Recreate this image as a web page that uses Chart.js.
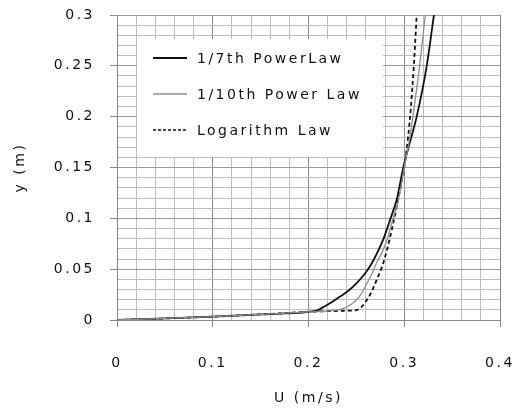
<!DOCTYPE html>
<html><head><meta charset="utf-8">
<script src="https://cdn.jsdelivr.net/npm/chart.js@4/dist/chart.umd.min.js"></script>
<style>html,body{margin:0;padding:0;background:#fff;}#wrap{width:515px;height:415px;position:relative;}</style>
</head><body><div id="wrap"><canvas id="c" width="515" height="415"></canvas></div>
<script>
// ---- data ----
const seriesNames = ['1/7th PowerLaw', '1/10th Power Law', 'Logarithm Law'];

const seventhU = [0, 0.05, 0.1, 0.15, 0.2, 0.21, 0.216, 0.225, 0.233, 0.242, 0.25, 0.26, 0.268, 0.278, 0.285, 0.292, 0.299, 0.306, 0.313, 0.3235, 0.331];
const seventhY = [0, 0.0015, 0.0033, 0.0055, 0.008, 0.0098, 0.013, 0.018, 0.023, 0.029, 0.036, 0.047, 0.059, 0.079, 0.098, 0.118, 0.15, 0.175, 0.2, 0.25, 0.3];

const tenthU = [0, 0.05, 0.1, 0.15, 0.2, 0.222, 0.235, 0.244, 0.25, 0.256, 0.261, 0.266, 0.271, 0.277, 0.282, 0.289, 0.294, 0.3, 0.305, 0.309, 0.316, 0.322];
const tenthY = [0, 0.0015, 0.0033, 0.0055, 0.008, 0.009, 0.011, 0.015, 0.0197, 0.027, 0.036, 0.045, 0.056, 0.067, 0.079, 0.102, 0.118, 0.15, 0.175, 0.2, 0.25, 0.3];

const logU = [0, 0.05, 0.1, 0.15, 0.2, 0.24, 0.25, 0.255, 0.261, 0.266, 0.271, 0.277, 0.282, 0.287, 0.292, 0.296, 0.3, 0.304, 0.307, 0.31, 0.313];
const logY = [0, 0.0015, 0.0033, 0.0055, 0.008, 0.0092, 0.0098, 0.0125, 0.0197, 0.028, 0.039, 0.053, 0.069, 0.089, 0.111, 0.13, 0.15, 0.18, 0.21, 0.25, 0.3];

const xTickValues = [0, 0.1, 0.2, 0.3, 0.4];
const xTickLabels = ['0', '0.1', '0.2', '0.3', '0.4'];
const yTickValues = [0, 0.05, 0.1, 0.15, 0.2, 0.25, 0.3];
const yTickLabels = ['0', '0.05', '0.1', '0.15', '0.2', '0.25', '0.3'];

// ---- helpers ----
const pts = (u, y) => u.map((v, i) => ({x: v, y: y[i]}));
const majorIndex = (vals, v) => vals.findIndex(m => Math.abs(m - v) < 1e-6);
const FONT = {family: '"DejaVu Sans", sans-serif', size: 14};
const SPACING = '2.5px';

const spacingPlugin = {
  id: 'spacing',
  beforeLayout(chart) { chart.ctx.letterSpacing = SPACING; },
  beforeDraw(chart) { chart.ctx.letterSpacing = SPACING; }
};

const legendStyles = [
  {color: '#111', width: 2, dash: []},
  {color: '#8f8f8f', width: 1.3, dash: []},
  {color: '#111', width: 1.6, dash: [3, 2]}
];

const innerLegend = {
  id: 'innerLegend',
  afterDatasetsDraw(chart) {
    const {ctx, chartArea: a} = chart;
    const L = a.left + 20, T = a.top + 24, W = 246, H = 118;
    ctx.save();
    ctx.fillStyle = '#fff';
    ctx.fillRect(L, T, W, H);
    ctx.font = '14px "DejaVu Sans", sans-serif';
    ctx.letterSpacing = SPACING;
    ctx.textBaseline = 'middle';
    ctx.textAlign = 'left';
    seriesNames.forEach((name, i) => {
      const y = T + 19 + i * 36;
      const s = legendStyles[i];
      ctx.strokeStyle = s.color; ctx.lineWidth = s.width; ctx.setLineDash(s.dash);
      ctx.beginPath(); ctx.moveTo(L + 16, y); ctx.lineTo(L + 50, y); ctx.stroke();
      ctx.setLineDash([]);
      ctx.fillStyle = '#111';
      ctx.fillText(name, L + 60, y + 1);
    });
    ctx.restore();
  }
};

const zeroPad = (s) => { s.paddingLeft = 0; s.paddingRight = 0; s.paddingTop = 0; s.paddingBottom = 0; };

new Chart(document.getElementById('c'), {
  type: 'scatter',
  data: {
    datasets: [
      {label: seriesNames[1], data: pts(tenthU, tenthY), showLine: true, borderColor: '#8f8f8f', borderWidth: 1.3, pointRadius: 0, cubicInterpolationMode: 'monotone'},
      {label: seriesNames[0], data: pts(seventhU, seventhY), showLine: true, borderColor: '#111', borderWidth: 1.8, pointRadius: 0, cubicInterpolationMode: 'monotone'},
      {label: seriesNames[2], data: pts(logU, logY), showLine: true, borderColor: '#111', borderWidth: 1.8, borderDash: [4, 3], pointRadius: 0, cubicInterpolationMode: 'monotone'}
    ]
  },
  options: {
    responsive: false,
    animation: false,
    devicePixelRatio: 1,
    layout: {padding: {left: 0, right: 15, top: 15, bottom: 0}},
    plugins: {legend: {display: false}, tooltip: {enabled: false}},
    scales: {
      x: {
        type: 'linear', min: 0, max: 0.4,
        afterFit(s) { s.height = 95; zeroPad(s); },
        ticks: {
          stepSize: 0.02, maxTicksLimit: 1000, autoSkip: false, maxRotation: 0,
          padding: 28, color: '#111', font: FONT,
          callback: (v) => { const i = majorIndex(xTickValues, v); return i >= 0 ? xTickLabels[i] : ''; }
        },
        grid: {
          tickLength: 7,
          color: (c) => majorIndex(xTickValues, c.tick ? c.tick.value : -1) >= 0 ? '#8a8a8a' : '#bdbdbd',
          tickColor: (c) => majorIndex(xTickValues, c.tick ? c.tick.value : -1) >= 0 ? '#8a8a8a' : 'rgba(0,0,0,0)'
        },
        border: {color: '#8a8a8a'},
        title: {display: true, text: 'U (m/s)', color: '#111', font: FONT, padding: {top: 0, bottom: 8}}
      },
      y: {
        type: 'linear', min: 0, max: 0.3,
        afterFit(s) { s.width = 117; zeroPad(s); },
        ticks: {
          stepSize: 0.01, maxTicksLimit: 1000, autoSkip: false,
          padding: 15, color: '#111', font: FONT,
          callback: (v) => { const i = majorIndex(yTickValues, v); return i >= 0 ? yTickLabels[i] : ''; }
        },
        grid: {
          tickLength: 7,
          color: (c) => majorIndex(yTickValues, c.tick ? c.tick.value : -1) >= 0 ? '#9a9a9a' : '#bdbdbd',
          tickColor: (c) => majorIndex(yTickValues, c.tick ? c.tick.value : -1) >= 0 ? '#8a8a8a' : 'rgba(0,0,0,0)'
        },
        border: {color: '#8a8a8a'},
        title: {display: true, text: 'y (m)', color: '#111', font: FONT, padding: {top: 12, bottom: 0}}
      }
    }
  },
  plugins: [spacingPlugin, innerLegend]
});
</script></body></html>
